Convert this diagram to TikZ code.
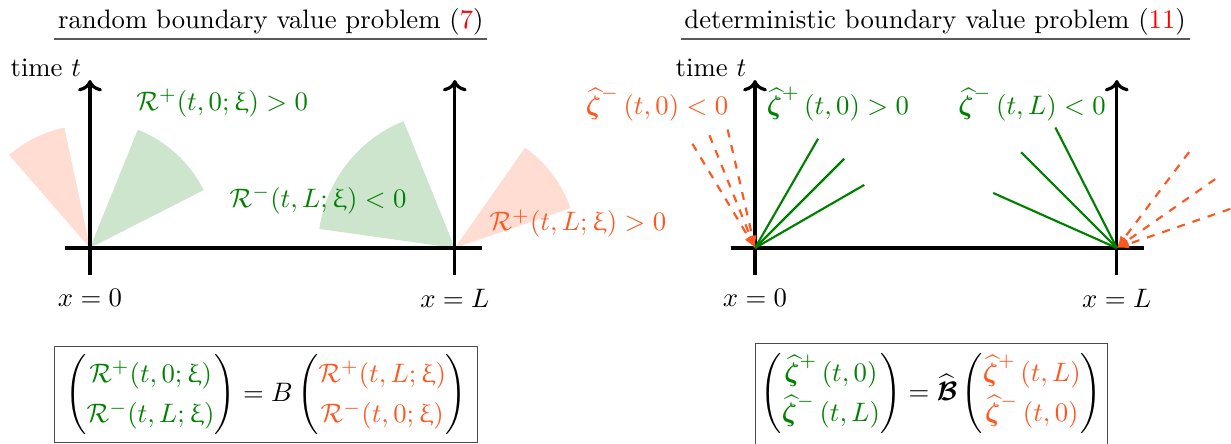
\documentclass[tikz,border=0pt]{standalone}
\usepackage{amsmath,amssymb,bm,upgreek}
\usepackage{xcolor}
\usepackage{tikz}
\usetikzlibrary{arrows.meta,positioning,calc}
\definecolor{grncol}{RGB}{0,128,0}
\definecolor{orgcol}{HTML}{FF5722}
\newcommand{\hzeta}[1]{\widehat{\bm{\zeta}}^{\raisebox{0.5ex}{$\scriptstyle#1$}}\,}

\begin{document}
\begin{tikzpicture}[
  axis/.style={very thick,->},
  ttl/.style={anchor=base,inner sep=1.2pt},
  ul/.style={draw=black!65,line width=0.7pt},
  grn/.style={text=grncol,inner sep=1pt},
  org/.style={text=orgcol,inner sep=1pt},
  rayg/.style={thick,grncol},
  rayo/.style={thick,orgcol,dashed,-{Latex[length=1.6mm]}},
  eqbox/.style={draw=black!70,thin,inner sep=4pt,
    execute at begin node={\renewcommand{\arraystretch}{1.25}}}]
  \useasboundingbox (-1.184,-2.579) rectangle (15.013,3.263);
  % random problem
  \coordinate (o1) at (0,0); \coordinate (l1) at (4.8,0);
  \fill[orgcol!20] (o1) -- ++(102:1.62) arc[start angle=102,end angle=131,radius=1.62] -- cycle;
  \fill[grncol!20] (o1) -- ++(27:1.68) arc[start angle=27,end angle=68,radius=1.68] -- cycle;
  \fill[grncol!20] (l1) -- ++(112:1.8) arc[start angle=112,end angle=172,radius=1.8] -- cycle;
  \fill[orgcol!20] (l1) -- ++(19:1.61) arc[start angle=19,end angle=55,radius=1.61] -- cycle;
  \draw[very thick] (-0.33,0) -- (5.16,0);
  \draw[axis] (0,-0.355) -- (0,2.21);
  \draw[axis] (4.8,-0.355) -- (4.8,2.21);
  \node[ttl] (ttlA) at (2.38,2.888) {random boundary value problem (\textcolor{red}{7})};
  \draw[ul] (ttlA.south west) -- (ttlA.south east);
  \node (timeA) at (-0.58,2.37) {time $t$};
  \node (xoA) at (0,-0.66) {$x=0$};
  \node (xlA) at (4.8,-0.66) {$x=L$};
  \node[grn] (rpoA) at (1.74,1.91) {$\mathcal{R}^+(t,0;\upxi)>0$};
  \node[grn] (rmlA) at (3.0,0.63) {$\mathcal{R}^-(t,L;\upxi)<0$};
  \node[org] (rplA) at (6.42,0.32) {$\mathcal{R}^+(t,L;\upxi)>0$};
  \node[eqbox,inner ysep=3pt] (eqA) at (2.32,-1.93) {$\begin{pmatrix}\color{grncol}\mathcal{R}^+(t,0;\upxi)\\ \color{grncol}\mathcal{R}^-(t,L;\upxi)\end{pmatrix}
    = B\begin{pmatrix}\color{orgcol}\mathcal{R}^+(t,L;\upxi)\\ \color{orgcol}\mathcal{R}^-(t,0;\upxi)\end{pmatrix}$};
  % deterministic problem
  \begin{scope}[xshift=8.75cm]
    \coordinate (o2) at (0,0); \coordinate (l2) at (4.76,0);
    \draw[very thick] (-0.32,0) -- (5.12,0);
    \draw[axis] (0,-0.355) -- (0,2.21);
    \draw[axis] (4.76,-0.355) -- (4.76,2.21);
    \draw[rayg] (o2) -- ++(30:1.66); \draw[rayg] (o2) -- ++(45:1.66); \draw[rayg] (o2) -- ++(60:1.66);
    \draw[rayg] (l2) -- ++(117:1.78); \draw[rayg] (l2) -- ++(135:1.78); \draw[rayg] (l2) -- ++(156:1.78);
    \draw[rayo] ([shift={(103:1.6)}]o2) -- (o2); \draw[rayo] ([shift={(112:1.6)}]o2) -- (o2);
    \draw[rayo] ([shift={(121:1.6)}]o2) -- (o2);
    \draw[rayo] ([shift={(19:1.58)}]l2) -- (l2); \draw[rayo] ([shift={(35:1.58)}]l2) -- (l2);
    \draw[rayo] ([shift={(53:1.58)}]l2) -- (l2);
    \node[ttl] (ttlB) at (2.37,2.888) {deterministic boundary value problem (\textcolor{red}{11})};
    \draw[ul] (ttlB.south west) -- (ttlB.south east);
    \node (timeB) at (-0.58,2.37) {time $t$};
    \node (xoB) at (0,-0.66) {$x=0$};
    \node (xlB) at (4.76,-0.66) {$x=L$};
    \node[org] (zmoB) at (-1.29,1.895) {$\hzeta{-}(t,0)<0$};
    \node[grn] (zpoB) at (1.09,1.895) {$\hzeta{+}(t,0)>0$};
    \node[grn] (zmlB) at (3.645,1.895) {$\hzeta{-}(t,L)<0$};
    \node[eqbox,inner xsep=2pt] (eqB) at (2.32,-1.92) {$\begin{pmatrix}\color{grncol}\hzeta{+}(t,0)\\ \color{grncol}\hzeta{-}(t,L)\end{pmatrix}
      = \widehat{\bm{\mathcal{B}}}\begin{pmatrix}\color{orgcol}\hzeta{+}(t,L)\\ \color{orgcol}\hzeta{-}(t,0)\end{pmatrix}$};
  \end{scope}
\end{tikzpicture}
\end{document}
